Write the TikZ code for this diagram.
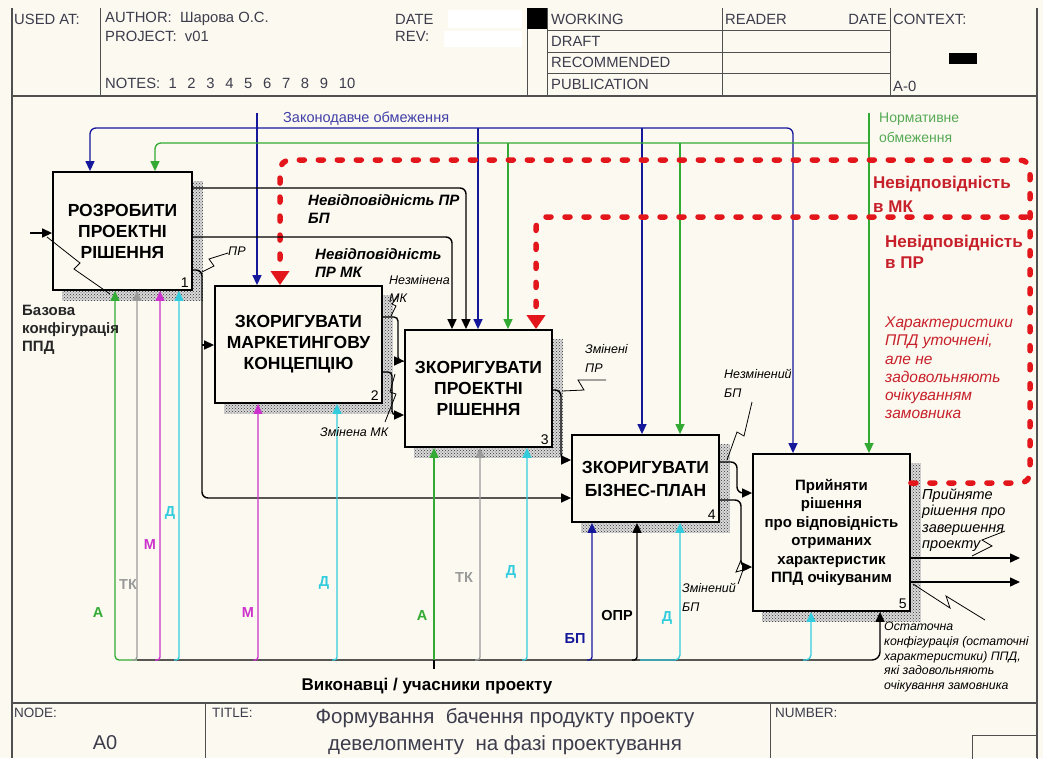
\documentclass[tikz,border=0pt]{standalone}
\usepackage{fontspec}
\setmainfont{Liberation Sans}
\usetikzlibrary{arrows.meta,patterns,backgrounds,calc}
\definecolor{bg}{HTML}{FCF9F0}
\definecolor{hdr}{HTML}{3C3C4C}
\definecolor{frm}{HTML}{505050}
\definecolor{cblue}{HTML}{15189A}
\definecolor{ctext}{HTML}{4040A8}
\definecolor{cgreen}{HTML}{33AA33}
\definecolor{cgtext}{HTML}{55AA55}
\definecolor{cred}{HTML}{E3161C}
\definecolor{credt}{HTML}{C8202A}
\definecolor{cmag}{HTML}{CC33CC}
\definecolor{ccyan}{HTML}{33CCDD}
\definecolor{cgray}{HTML}{9A9A9A}
\newcommand\fs[2]{\fontsize{#1}{#2}\selectfont}
\begin{document}
\begin{tikzpicture}[x=1pt,y=-1pt,
  box/.style={draw, line width=1.8pt, fill=bg, inner sep=0pt, align=center},
  num/.style={font=\fs{14}{14}, anchor=south east, inner sep=0pt},
  arr/.style={-{Triangle[length=10pt,width=9pt]}},
  rarr/.style={-{Triangle[length=14pt,width=18pt]}},
  bk/.style={draw=black, line width=1.4pt},
  bl/.style={draw=cblue, line width=1.3pt},
  gr/.style={draw=cgreen, line width=1.3pt},
  rd/.style={draw=cred, line width=5.5pt, line cap=round, dash pattern=on 5pt off 14pt},
  mg/.style={draw=cmag, line width=1.3pt},
  cy/.style={draw=ccyan, line width=1.3pt},
  gy/.style={draw=cgray, line width=1.3pt},
  rc/.style={rounded corners=6pt},
  hd/.style={font=\fs{14.8}{14.8}, text=hdr, anchor=west, inner sep=0pt},
  lab/.style={anchor=west, inner sep=0pt, align=left},
  shd/.style={pattern=crosshatch dots, pattern color=black!80},
  sq/.style={draw=black, line width=0.8pt},
  bot/.style={font=\fs{14.5}{14.5}\bfseries, inner sep=0pt},
  ]
\useasboundingbox (0,0) rectangle (1043,758);

% ---------- boxes ----------
\node[box, minimum width=139pt, minimum height=118pt, font=\fs{17.5}{21}\bfseries] (b1) at (122.5,231) {РОЗРОБИТИ\\ПРОЕКТНІ\\РІШЕННЯ};
\node[box, minimum width=167pt, minimum height=117pt, font=\fs{17.5}{21}\bfseries] (b2) at (298.5,344.5) {ЗКОРИГУВАТИ\\МАРКЕТИНГОВУ\\КОНЦЕПЦІЮ};
\node[box, minimum width=147pt, minimum height=117pt, font=\fs{17.5}{21}\bfseries] (b3) at (478.5,388.5) {ЗКОРИГУВАТИ\\ПРОЕКТНІ\\РІШЕННЯ};
\node[box, minimum width=147pt, minimum height=87pt, font=\fs{17.5}{23}\bfseries] (b4) at (645.5,478.5) {ЗКОРИГУВАТИ\\БІЗНЕС-ПЛАН};
\node[box, minimum width=157pt, minimum height=157pt, font=\fs{15}{18.4}\bfseries] (b5) at (831.5,532.5) {Прийняти\\рішення\\про відповідність\\отриманих\\характеристик\\ППД очікуваним};

\node[num] (n1) at ($(b1.south east)+(-4,-3)$) {1};
\node[num] (n2) at ($(b2.south east)+(-4,-3)$) {2};
\node[num] (n3) at ($(b3.south east)+(-4,-3)$) {3};
\node[num] (n4) at ($(b4.south east)+(-4,-3)$) {4};
\node[num] (n5) at ($(b5.south east)+(-4,-3)$) {5};

\begin{scope}[on background layer]
  \fill[bg] (0,0) rectangle (1043,758);
  \foreach \b in {b1,b2,b3,b4,b5}{
    \fill[gray!30] ($(\b.north west)+(10,10)$) rectangle ($(\b.south east)+(10,10)$);
    \fill[shd] ($(\b.north west)+(10,10)$) rectangle ($(\b.south east)+(10,10)$);
  }
\end{scope}

% ---------- frame / header / footer ----------
\draw[frm, line width=1.2pt] (12,8) -- (12,758) (1037,8) -- (1037,758);
\draw[frm, line width=1.2pt] (12,96) -- (1037,96);
\draw[frm, line width=1pt] (100,8) -- (100,96) (527,8) -- (527,96) (547,8) -- (547,96)
  (722,8) -- (722,96) (890,8) -- (890,96)
  (547,30) -- (890,30) (547,52) -- (890,52) (547,73) -- (890,73);
\fill[black] (527,8) rectangle (547,29);
\fill[black] (949,53) rectangle (977,64);
\fill[white] (448,10) rectangle (522,28);
\fill[white] (444,31) rectangle (522,47);
\node[hd] (h1) at (14,19) {USED AT:};
\node[hd] (h2) at (105,19) {AUTHOR:\ \ Шарова О.С.};
\node[hd] (h3) at (105,36) {PROJECT:\ \ v01};
\node[hd] (h4) at (105,83) {NOTES:\ \ 1\ \ \,2\ \ \,3\ \ \,4\ \ \,5\ \ \,6\ \ \,7\ \ \,8\ \ \,9\ \ \,10};
\node[hd] (h5) at (395,19) {DATE};
\node[hd] (h6) at (395,36) {REV:};
\node[hd] (h7) at (551,19) {WORKING};
\node[hd] (h8) at (551,41) {DRAFT};
\node[hd] (h9) at (551,62) {RECOMMENDED};
\node[hd] (h10) at (551,84) {PUBLICATION};
\node[hd] (h11) at (725,19) {READER};
\node[hd, anchor=east] (h12) at (887,19) {DATE};
\node[hd] (h13) at (893,19) {CONTEXT:};
\node[hd] (h14) at (893,86) {A-0};

\draw[frm, line width=1.2pt] (12,703) -- (1037,703);
\draw[frm, line width=1pt] (205,703) -- (205,758) (770,703) -- (770,758);
\draw[frm, line width=1pt] (972,735) rectangle (1037,760);
\node[hd, font=\fs{13.5}{13.5}] (f1) at (14,713) {NODE:};
\node[hd, font=\fs{13.5}{13.5}] (f2) at (212,713) {TITLE:};
\node[hd, font=\fs{13.5}{13.5}] (f3) at (775,713) {NUMBER:};
\node[font=\fs{20}{20}, text=hdr, inner sep=0pt] (f4) at (105,743) {A0};
\node[font=\fs{20.5}{27}, text=hdr, inner sep=0pt, align=center] (f5) at (505,732) {Формування\ \ бачення продукту проекту\\девелопменту\ \ на фазі проектування};

% ---------- blue controls ----------
\coordinate (zsrc) at (257,113);
\coordinate (zj) at (257,128);
\draw[bl, arr] (zsrc) -- (b2.north -| zsrc);
\draw[bl, arr, rc] (zj) -| (b1.north -| 90,0);
\draw[bl, arr, rc] (zj) -| (b5.north -| 793,0);
\draw[bl, arr] (478,128) -- (b3.north -| 478,0);
\draw[bl, arr] (642,128) -- (b4.north -| 642,0);
\node[lab, font=\fs{14.5}{14.5}, text=ctext] (zl) at (283,119) {Законодавче обмеження};

% ---------- green controls ----------
\coordinate (nsrc) at (869,113);
\draw[gr, arr] (nsrc) -- (b5.north -| nsrc);
\draw[gr, arr, rc] (869,143) -| (b1.north -| 155,0);
\draw[gr, arr] (508,143) -- (b3.north -| 508,0);
\draw[gr, arr] (680,143) -- (b4.north -| 680,0);
\node[lab, font=\fs{14}{20}, text=cgtext] (nl) at (879,128) {Нормативне\\обмеження};

% ---------- red feedback ----------
\draw[rd, rarr, rounded corners=10pt] (b5.east |- 0,483) -- (1030,483) -- (1030,160) -- (280,160) -- (b2.north -| 280,0);
\draw[rd, rarr, rounded corners=10pt] (1026,217) -- (536,217) -- (b3.north -| 536,0);
\node[lab, font=\fs{17}{24}\bfseries, text=credt] (r1) at (873,194) {Невідповідність\\в МК};
\node[lab, font=\fs{17}{21}\bfseries, text=credt] (r2) at (885,252) {Невідповідність\\в ПР};
\node[lab, font=\fs{15.5}{18.2}\itshape, text=credt] (r3) at (885,368) {Характеристики\\ППД уточнені,\\але не\\задовольняють\\очікуванням\\замовника};

% ---------- black flows ----------
\coordinate (in1) at (30,233);
\draw[bk, arr] (in1) -- (b1.west |- in1);
\draw[bk, arr, rc] (b1.east |- 0,188) -| (b3.north -| 466,0);
\draw[bk, arr, rc] (b1.east |- 0,237) -| (b3.north -| 452,0);
\draw[bk, arr, rc] (b1.east |- 0,270) -| (202,330) |- (b4.west |- 0,498);
\draw[bk, arr] (202,345) -- (b2.west |- 0,345);
\draw[bk, arr, rounded corners=4pt] (b2.east |- 0,317) -| (398,340) |- (b3.west |- 0,361);
\draw[bk, arr, rounded corners=4pt] (b2.east |- 0,372) -| (392,395) |- (b3.west |- 0,415);
\draw[bk, arr, rc] (b3.east |- 0,390) -| (561,430) |- (b4.west |- 0,460);
\draw[bk, arr, rc] (b4.east |- 0,462) -| (737,480) |- (b5.west |- 0,493);
\draw[bk, arr, rc] (b4.east |- 0,500) -| (741,530) |- (b5.west |- 0,567);
\coordinate (o1) at (1020,558);
\coordinate (o2) at (1020,582);
\draw[bk, arr] (b5.east |- o1) -- (o1);
\draw[bk, arr] (b5.east |- o2) -- (o2);

% ---------- mechanisms ----------
\coordinate (msrc) at (434,669);
\draw[bk, arr, rounded corners=8pt] (137,660) -| (b5.south -| 880,0);
\draw[bk] (msrc) -- (434,660);
\draw[gr, arr, rounded corners=4pt] (137,660) -| (b1.south -| 115,0);
\draw[gy, arr, rounded corners=3pt] (132,660) -| (b1.south -| 137,0);
\draw[mg, arr, rounded corners=3pt] (155,660) -| (b1.south -| 160,0);
\draw[cy, arr, rounded corners=3pt] (174,660) -| (b1.south -| 179,0);
\draw[mg, arr, rounded corners=3pt] (253,660) -| (b2.south -| 258,0);
\draw[cy, arr, rounded corners=3pt] (332,660) -| (b2.south -| 337,0);
\draw[gr, arr] (434,660) -- (b3.south -| 434,0);
\draw[gy, arr, rounded corners=3pt] (475,660) -| (b3.south -| 480,0);
\draw[cy, arr, rounded corners=3pt] (522,660) -| (b3.south -| 527,0);
\draw[bl, arr, rounded corners=3pt] (587,660) -| (b4.south -| 592,0);
\draw[bk, arr, rounded corners=3pt] (632,660) -| (b4.south -| 637,0);
\draw[cy, arr, rounded corners=5pt] (640,660) -| (b4.south -| 680,0);
\draw[cy, arr, rounded corners=5pt] (803,660) -| (b5.south -| 811,0);
\node[font=\fs{17}{17}\bfseries, inner sep=0pt] (ml) at (427,686) {Виконавці / учасники проекту};

\node[bot, text=cgreen] (a1) at (98,613) {А};
\node[bot, text=cgray] (t1) at (128,585) {ТК};
\node[bot, text=cmag] (m1) at (150,545) {М};
\node[bot, text=ccyan] (d1) at (170,513) {Д};
\node[bot, text=cmag] (m2) at (248,613) {М};
\node[bot, text=ccyan] (d2) at (324,583) {Д};
\node[bot, text=cgreen] (a3) at (422,615) {А};
\node[bot, text=cgray] (t3) at (464,578) {ТК};
\node[bot, text=ccyan] (d3) at (511,572) {Д};
\node[bot, text=cblue] (bp) at (575,638) {БП};
\node[bot] (opr) at (617,615) {ОПР};
\node[bot, text=ccyan] (d4) at (667,618) {Д};

% ---------- labels ----------
\node[lab, font=\fs{15}{18}\bfseries, text=black!85] (base) at (22,330) {Базова\\конфігурація\\ППД};
\node[lab, font=\fs{15}{18}\bfseries\itshape] (l1) at (308,209) {Невідповідність ПР\\БП};
\node[lab, font=\fs{15}{18}\bfseries\itshape] (l2) at (315,263) {Невідповідність\\ПР МК};
\node[lab, font=\fs{12.5}{12.5}\itshape] (l3) at (228,251) {ПР};
\node[lab, font=\fs{12.5}{18}\itshape] (l4) at (389,289) {Незмінена\\МК};
\node[lab, font=\fs{12.5}{12.5}\itshape] (l5) at (320,432) {Змінена МК};
\node[lab, font=\fs{12.5}{19}\itshape] (l6) at (585,358) {Змінені\\ПР};
\node[lab, font=\fs{12.5}{19}\itshape] (l7) at (724,383) {Незмінений\\БП};
\node[lab, font=\fs{12.5}{19}\itshape] (l8) at (682,597) {Змінений\\БП};
\node[lab, font=\fs{14.5}{16.5}\itshape] (l9) at (922,520) {Прийняте\\рішення про\\завершення\\проекту};
\node[lab, font=\fs{12.3}{14.8}\itshape] (l10) at (884,657) {Остаточна\\конфігурація (остаточні\\характеристики) ППД,\\які задовольняють\\очікування замовника};

% ---------- squiggles ----------
\draw[sq] (47,237) -- (80,263) -- (74,269) -- (110,294);
\draw[sq] (202,272) -- (214,266) -- (209,259) -- (228,253);
\draw[sq] (391,316) -- (396,306) -- (392,304) -- (398,296);
\draw[sq] (395,374) -- (390,392) -- (396,394) -- (385,422);
\draw[sq] (562,391) -- (584,390) -- (578,380) -- (606,380);
\draw[sq] (727,460) -- (737,432) -- (744,436) -- (752,402);
\draw[sq] (741,560) -- (736,572) -- (743,570) -- (738,584);
\draw[sq] (972,556) -- (992,546) -- (982,540) -- (1005,531);
\draw[sq] (913,584) -- (950,608) -- (946,596) -- (985,620);
\end{tikzpicture}
\end{document}
